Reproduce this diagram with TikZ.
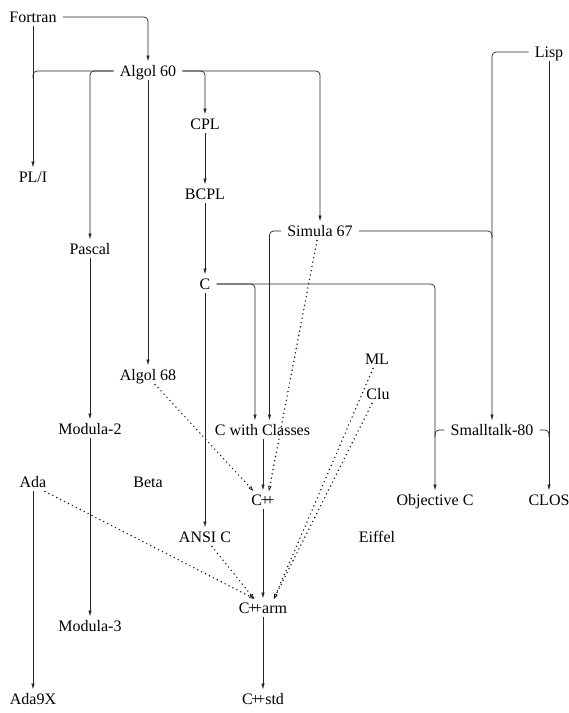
\documentclass[tikz,border=0pt]{standalone}
\usepackage{fontspec}
\setmainfont{Liberation Serif}
\usetikzlibrary{arrows.meta}
\begin{document}
\begin{tikzpicture}[x=1pt,y=-1pt,
  lang/.style={inner xsep=6pt,inner ysep=4pt,text height=10.5pt,text depth=0pt,font=\fontsize{16}{19}\selectfont},
  ln/.style={draw=black!85,line width=0.7pt,rounded corners=4pt},
  arr/.style={ln,-{Latex[length=6pt,width=3.4pt]}},
  dotarr/.style={draw=black!90,line width=1.6pt,line cap=round,dash pattern=on 0pt off 4.4pt,-{Latex[open,length=6pt,width=3.8pt,line width=0.7pt,round=false]}}]
\useasboundingbox (0,0) rectangle (569,713);
\newcommand{\cpluspl}{C\kern-1.5pt+\kern-4pt+}
% nodes
\node[lang] (fortran) at (33,17) {Fortran};
\node[lang] (algol60) at (148,71) {Algol 60};
\node[lang] (lisp) at (549,52) {Lisp};
\node[lang] (cpl) at (205,124) {CPL};
\node[lang] (pli) at (33,177) {PL/I};
\node[lang] (bcpl) at (205,194) {BCPL};
\node[lang] (simula) at (320,231) {Simula 67};
\node[lang] (pascal) at (90,249) {Pascal};
\node[lang] (c) at (205,284) {C};
\node[lang] (ml) at (377,359) {ML};
\node[lang] (algol68) at (148,375) {Algol 68};
\node[lang] (clu) at (378,394) {Clu};
\node[lang] (modula2) at (90,429) {Modula-2};
\node[lang] (cwc) at (262.5,430) {C with Classes};
\node[lang] (smalltalk) at (492,430) {Smalltalk-80};
\node[lang] (ada) at (33,482) {Ada};
\node[lang] (beta) at (148,482) {Beta};
\node[lang] (cpp) at (263,500) {\cpluspl};
\node[lang] (objc) at (435,500) {Objective C};
\node[lang] (clos) at (549,500) {CLOS};
\node[lang] (ansic) at (205,537) {ANSI C};
\node[lang] (eiffel) at (377,537) {Eiffel};
\node[lang] (cpparm) at (263,608) {\cpluspl arm};
\node[lang] (modula3) at (90,626) {Modula-3};
\node[lang] (ada9x) at (33,699) {Ada9X};
\node[lang] (cppstd) at (263,699) {\cpluspl std};
% junction points on shared lines
\coordinate (jpli) at (pli.north |- algol60.west);
\coordinate (jst) at (smalltalk.north |- simula.east);
\coordinate (jobjc) at (objc.north |- smalltalk.west);
\coordinate (jclos) at (clos.north |- smalltalk.east);
% solid connectors
\draw[arr] (fortran.east) -| (algol60.north);
\draw[arr] (fortran) -- (pli);
\draw[ln] (algol60.west) -| ([yshift=-7pt]jpli);
\draw[arr] (algol60.west) -| (pascal.north);
\draw[arr] (algol60) -- (algol68);
\draw[arr] (algol60.east) -| (cpl.north);
\draw[arr] (algol60.east) -| (simula.north);
\draw[arr] (cpl) -- (bcpl);
\draw[arr] (bcpl) -- (c);
\draw[arr] (pascal) -- (modula2);
\draw[arr] (modula2) -- (modula3);
\draw[arr] (c) -- (ansic);
\draw[arr] (c.east) -| ([xshift=-7.5pt]cwc.north);
\draw[arr] (c.east) -| (objc.north);
\draw[arr] (simula.west) -| ([xshift=7pt]cwc.north);
\draw[ln] (simula.east) -| ([yshift=-7pt]jst);
\draw[arr] (lisp.west) -| (smalltalk.north);
\draw[arr] (lisp) -- (clos);
\draw[ln] (smalltalk.west) -| ([yshift=-7pt]jobjc);
\draw[ln] (smalltalk.east) -| ([yshift=-7pt]jclos);
\draw[arr] (cwc.south -| cpp) -- (cpp);
\draw[arr] (cpp) -- (cpparm);
\draw[arr] (cpparm) -- (cppstd);
\draw[arr] (ada) -- (ada9x);
% dotted connectors
\draw[dotarr] ([xshift=-3pt]simula.south) -- ([xshift=6pt]cpp.north);
\draw[dotarr] ([xshift=7pt]algol68.south) -- ([xshift=-10pt]cpp.north);
\draw[dotarr] ([xshift=-4pt]ml.south) -- ([xshift=11pt]cpparm.north);
\draw[dotarr] ([xshift=-6pt]clu.south) -- ([xshift=11pt]cpparm.north);
\draw[dotarr] ([xshift=7pt]ansic.south) -- ([xshift=-9pt]cpparm.north);
\draw[dotarr] ([xshift=12pt]ada.south) -- ([xshift=-9pt]cpparm.north);
\end{tikzpicture}
\end{document}
